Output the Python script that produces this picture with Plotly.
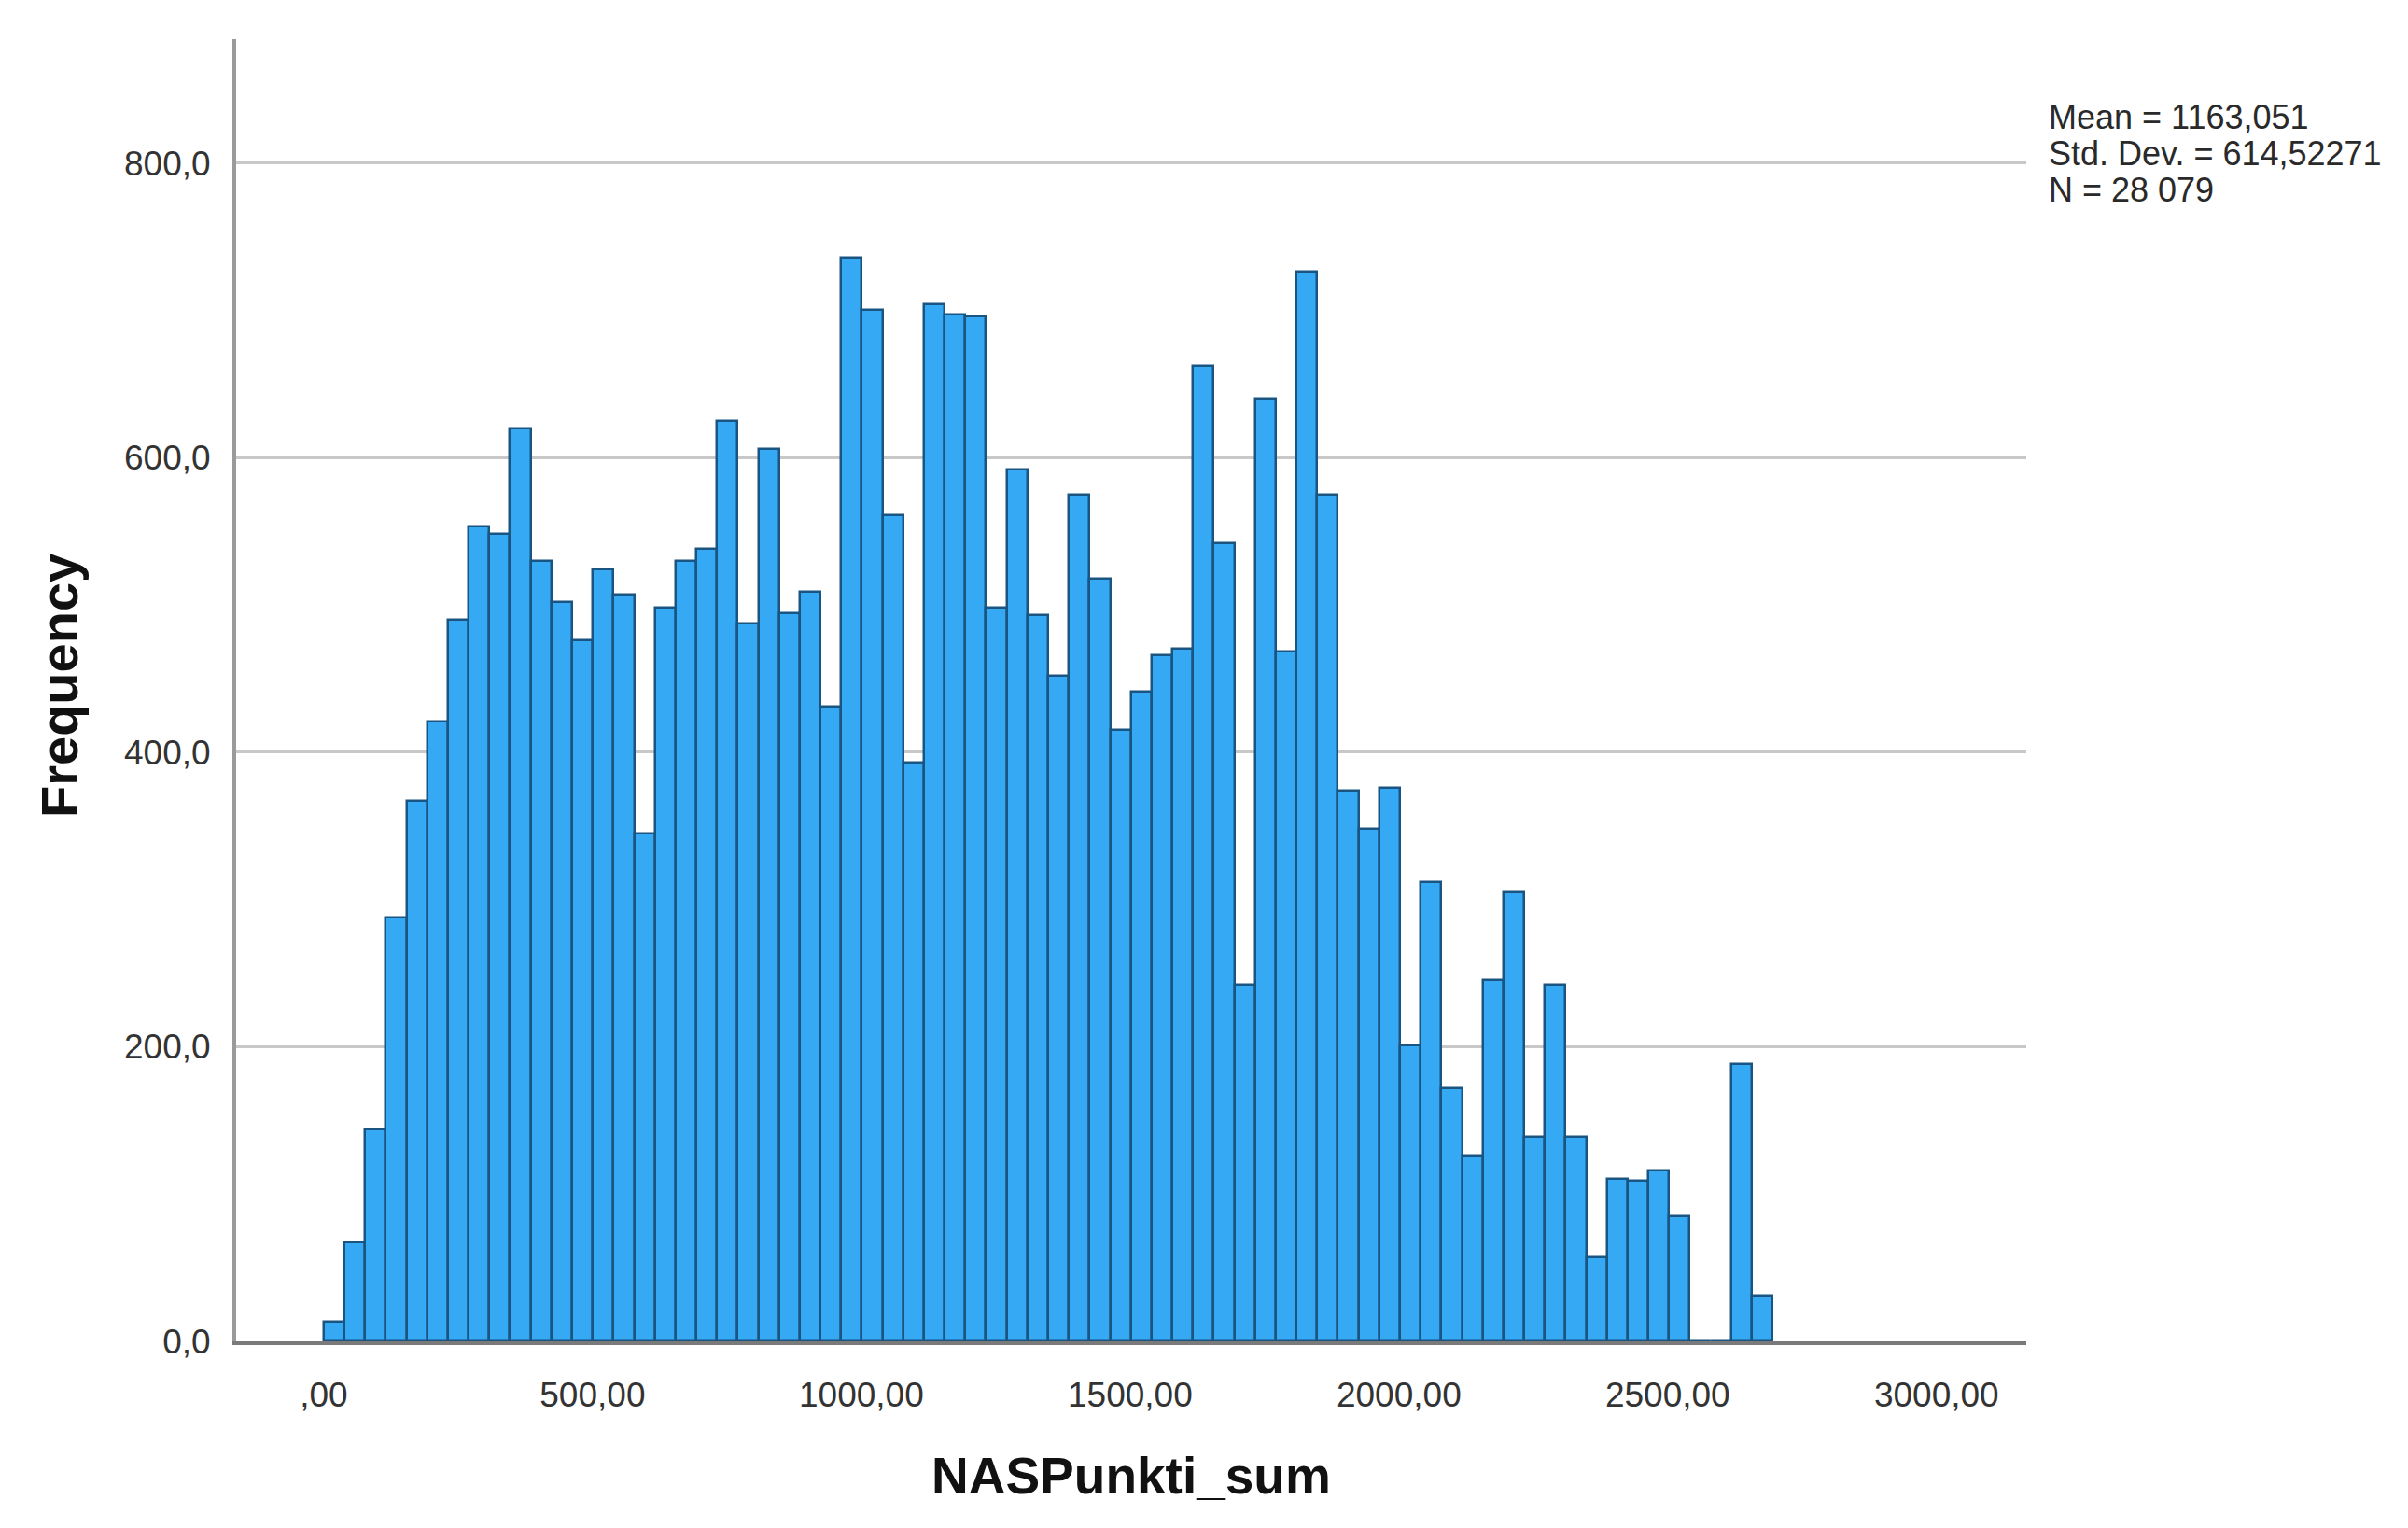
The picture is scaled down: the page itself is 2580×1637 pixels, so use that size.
import plotly.graph_objects as go

# ---- data ----
bin_width = 38.5
frequency = [13, 67, 144, 288, 367, 421, 490, 553, 548, 620,
             530, 502, 476, 524, 507, 345, 498, 530, 538, 625,
             487, 606, 494, 509, 431, 736, 700, 561, 393, 704,
             697, 696, 498, 592, 493, 452, 575, 518, 415, 441,
             466, 470, 662, 542, 242, 640, 468, 726, 575, 374,
             348, 376, 201, 312, 172, 126, 245, 305, 139, 242,
             139, 57, 110, 109, 116, 85, 0, 0, 188, 31]
bin_centers = [(i + 0.5) * bin_width for i in range(len(frequency))]

x_tickvals = [0, 500, 1000, 1500, 2000, 2500, 3000]
x_ticktext = [",00", "500,00", "1000,00", "1500,00", "2000,00", "2500,00", "3000,00"]
y_tickvals = [0, 200, 400, 600, 800]
y_ticktext = ["0,0", "200,0", "400,0", "600,0", "800,0"]
stats_lines = ["Mean = 1163,051", "Std. Dev. = 614,52271", "N = 28 079"]
x_title = "NASPunkti_sum"
y_title = "Frequency"

FONT = "Liberation Sans, Arial, Helvetica, sans-serif"

fig = go.Figure()
fig.add_trace(go.Bar(
    x=bin_centers, y=frequency, width=[bin_width] * len(frequency),
    marker=dict(color="#35A9F4", line=dict(color="#1A5582", width=2.5)),
    showlegend=False, hoverinfo="x+y",
))

W, H = 2580, 1637
L, R, T, B = 245, 417, 34, 208
plot_h = H - T - B

fig.update_layout(
    width=W, height=H, autosize=False,
    margin=dict(l=L, r=R, t=T, b=B, pad=0),
    paper_bgcolor="white", plot_bgcolor="white",
    bargap=0,
    font=dict(family=FONT, size=37, color="#3a3a3a"),
    xaxis=dict(
        range=[-163, 3167], tickvals=x_tickvals, ticktext=x_ticktext,
        showgrid=False, zeroline=False,
        showline=True, linecolor="#7a7a7a", linewidth=4,
        ticks="", ticklabelstandoff=22,
        tickfont=dict(family=FONT, size=37, color="#333333"),
    ),
    yaxis=dict(
        range=[0, 884], tickvals=y_tickvals, ticktext=y_ticktext,
        showgrid=True, gridcolor="#c8c8c8", gridwidth=3,
        zeroline=False,
        showline=True, linecolor="#9a9a9a", linewidth=4,
        ticks="", ticklabelstandoff=16,
        tickfont=dict(family=FONT, size=37, color="#333333"),
    ),
)

annotations = [
    dict(text=x_title, xref="paper", yref="paper", x=0.5,
         y=(T + plot_h - 1573) / plot_h, xanchor="center", yanchor="middle",
         showarrow=False, font=dict(family=FONT, size=55, color="#111111", weight="bold")),
    dict(text=y_title, xref="paper", yref="paper", x=(55 - L) / (W - L - R),
         y=(T + plot_h - 727) / plot_h, xanchor="center", yanchor="middle",
         textangle=-90, showarrow=False,
         font=dict(family=FONT, size=56, color="#111111", weight="bold")),
]
for line, ypix in zip(stats_lines, [118, 157, 196]):
    annotations.append(dict(
        text=line, xref="paper", yref="paper", x=(2185 - L) / (W - L - R),
        y=(T + plot_h - ypix) / plot_h, xanchor="left", yanchor="middle",
        showarrow=False, font=dict(family=FONT, size=36, color="#2a2a2a")))
fig.update_layout(annotations=annotations)

fig.write_html("out.html")
